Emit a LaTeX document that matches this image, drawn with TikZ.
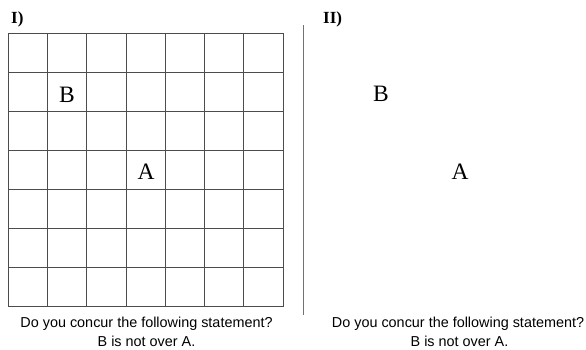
\documentclass[tikz,border=0pt]{standalone}
\usepackage{fontspec}
\setmainfont{Liberation Serif}
\setsansfont{Liberation Sans}
\usetikzlibrary{positioning}
\tikzstyle{gridline} = [line width=1pt, draw=black!70]
\tikzstyle{divider}  = [line width=1.3pt, draw=black!55]
\tikzstyle{panel}    = [font=\bfseries\fontsize{17}{20}\selectfont, anchor=base west, inner sep=0pt]
\tikzstyle{letter}   = [font=\fontsize{23.5}{26}\selectfont, anchor=base, inner sep=0pt]
\tikzstyle{caption}  = [font=\sffamily\fontsize{14.4}{17}\selectfont, anchor=base, inner sep=0pt]

\begin{document}
\begin{tikzpicture}[x=1pt, y=1pt]
    \useasboundingbox (0,0) rectangle (586,350);
    % panel I: 7x7 grid
    \foreach \i in {0,...,7} {
        \draw [gridline] (8.3+39.25*\i, 43) -- (8.3+39.25*\i, 316.7);
        \draw [gridline] (8.3, 43+39.1*\i) -- (283, 43+39.1*\i);
    }
    \node (lblI)  [panel]  at (11, 326)   {I)};
    \node (gridB) [letter] at (67, 247.5) {B};
    \node (gridA) [letter] at (146, 170)  {A};
    \node (ask1)  [caption] at (146.5, 22.7) {Do you concur the following statement?};
    \node (stmt1) [caption, below=19.4pt of ask1.base, anchor=base] {B is not over A.};

    % divider
    \draw [divider] (303.5, 35) -- (303.5, 325);

    % panel II: no grid
    \node (lblII)  [panel]  at (323, 326)   {II)};
    \node (plainB) [letter] at (381, 248)   {B};
    \node (plainA) [letter] at (460, 170)   {A};
    \node (ask2)  [caption] at (458, 22.7) {Do you concur the following statement?};
    \node (stmt2) [caption, below=19.4pt of ask2.base, anchor=base, xshift=1.5pt] {B is not over A.};
\end{tikzpicture}
\end{document}
